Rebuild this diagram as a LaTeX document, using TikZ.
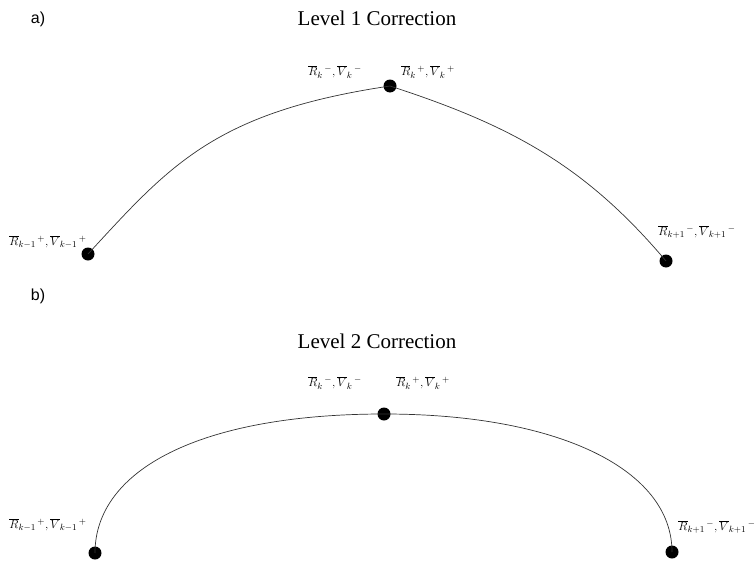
\documentclass[tikz,border=0pt]{standalone}
\usepackage{fontspec}
\setmainfont{Liberation Serif}
\newfontfamily\labelfont{Liberation Sans}
\usetikzlibrary{positioning}
\tikzset{
  dot/.style={circle, fill=black, inner sep=0pt, minimum size=13pt},
  trackln/.style={line width=0.7pt, black!80},
  statelbl/.style={font=\fontsize{12.5}{13}\selectfont, inner sep=0pt},
  titlelbl/.style={font=\fontsize{21}{23}\selectfont},
  partlbl/.style={font=\labelfont\fontsize{16}{17}\selectfont},
}
\newcommand{\stp}[2]{$\overline{R}_{#1}{}^{\,#2},\overline{V}_{#1}{}^{\,#2}$}

\begin{document}
\begin{tikzpicture}[x=1pt,y=-1pt]
    \useasboundingbox (0,0) rectangle (756,565);
    % ----- level 1 -----
    \node[partlbl] (pa) at (38,19) {a)};
    \node[titlelbl] (ta) at (377,18) {Level 1 Correction};
    \node[dot] (a0) at (88,254) {};
    \node[dot] (a1) at (390,86) {};
    \node[dot] (a2) at (666,261) {};
    \draw[trackln] (a0.center) .. controls (170,165) and (215,112) .. (a1.center);
    \draw[trackln] (a1.center) .. controls (510,125) and (585,165) .. (a2.center);
    \node[statelbl] (a1m) at (335,72) {\stp{k}{-}};
    \node[statelbl] (a1p) at (428,72) {\stp{k}{+}};
    \node[statelbl] (a0p) at (48,242) {\stp{k-1}{+}};
    \node[statelbl] (a2m) at (697,232) {\stp{k+1}{-}};
    % ----- level 2 -----
    \node[partlbl] (pb) at (38,296) {b)};
    \node[titlelbl] (tb) at (377,341) {Level 2 Correction};
    \node[dot] (b0) at (95,553) {};
    \node[dot] (b1) at (384,414) {};
    \node[dot] (b2) at (672,552) {};
    \draw[trackln] (b0.center) .. controls (95,470) and (200,414) .. (b1.center);
    \draw[trackln] (b1.center) .. controls (560,414) and (672,470) .. (b2.center);
    \node[statelbl] (b1m) at (335,383) {\stp{k}{-}};
    \node[statelbl] (b1p) at (423,383) {\stp{k}{+}};
    \node[statelbl] (b0p) at (48,525) {\stp{k-1}{+}};
    \node[statelbl] (b2m) at (717,527) {\stp{k+1}{-}};
\end{tikzpicture}
\end{document}
